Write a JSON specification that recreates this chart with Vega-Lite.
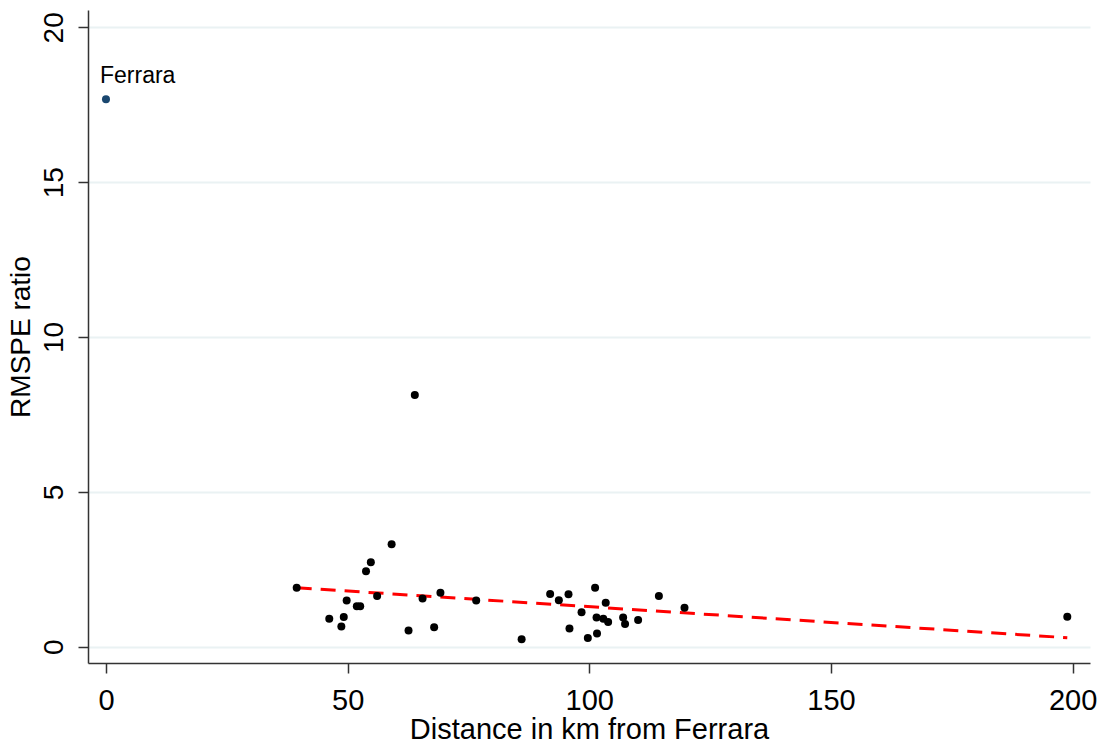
{
  "$schema": "https://vega.github.io/schema/vega-lite/v6.json",
  "width": 1002,
  "height": 653,
  "autosize": {"type": "none"},
  "padding": {"left": 88, "top": 10, "right": 14, "bottom": 83},
  "background": "white",
  "config": {
    "view": {"stroke": null},
    "font": "Liberation Sans",
    "axis": {
      "labelFont": "Liberation Sans",
      "titleFont": "Liberation Sans",
      "labelColor": "#000000",
      "titleColor": "#000000",
      "titleFontWeight": "normal",
      "domainColor": "#333333",
      "domainWidth": 1.5,
      "tickColor": "#333333",
      "tickWidth": 1.5,
      "tickSize": 10
    }
  },
  "datasets": {
    "pts": [
      {"unit": "Ferrara", "distance": 0, "ratio": 17.68, "label": "Ferrara"},
      {"unit": "u1", "distance": 39.46, "ratio": 1.905, "label": ""},
      {"unit": "u2", "distance": 46.2, "ratio": 0.90, "label": ""},
      {"unit": "u3", "distance": 48.7, "ratio": 0.65, "label": ""},
      {"unit": "u4", "distance": 49.2, "ratio": 0.96, "label": ""},
      {"unit": "u5", "distance": 49.8, "ratio": 1.49, "label": ""},
      {"unit": "u6", "distance": 51.9, "ratio": 1.31, "label": ""},
      {"unit": "u7", "distance": 52.6, "ratio": 1.31, "label": ""},
      {"unit": "u8", "distance": 53.8, "ratio": 2.44, "label": ""},
      {"unit": "u9", "distance": 54.8, "ratio": 2.73, "label": ""},
      {"unit": "u10", "distance": 56.1, "ratio": 1.64, "label": ""},
      {"unit": "u11", "distance": 59.1, "ratio": 3.31, "label": ""},
      {"unit": "u12", "distance": 62.6, "ratio": 0.52, "label": ""},
      {"unit": "u13", "distance": 63.9, "ratio": 8.13, "label": ""},
      {"unit": "u14", "distance": 65.5, "ratio": 1.56, "label": ""},
      {"unit": "u15", "distance": 67.9, "ratio": 0.63, "label": ""},
      {"unit": "u16", "distance": 69.2, "ratio": 1.74, "label": ""},
      {"unit": "u17", "distance": 76.6, "ratio": 1.49, "label": ""},
      {"unit": "u18", "distance": 86.0, "ratio": 0.24, "label": ""},
      {"unit": "u19", "distance": 91.9, "ratio": 1.70, "label": ""},
      {"unit": "u20", "distance": 93.7, "ratio": 1.50, "label": ""},
      {"unit": "u21", "distance": 95.7, "ratio": 1.69, "label": ""},
      {"unit": "u22", "distance": 95.9, "ratio": 0.59, "label": ""},
      {"unit": "u23", "distance": 98.4, "ratio": 1.11, "label": ""},
      {"unit": "u24", "distance": 99.7, "ratio": 0.28, "label": ""},
      {"unit": "u25", "distance": 101.2, "ratio": 1.90, "label": ""},
      {"unit": "u26", "distance": 101.5, "ratio": 0.94, "label": ""},
      {"unit": "u27", "distance": 101.6, "ratio": 0.43, "label": ""},
      {"unit": "u28", "distance": 102.9, "ratio": 0.90, "label": ""},
      {"unit": "u29", "distance": 103.4, "ratio": 1.42, "label": ""},
      {"unit": "u30", "distance": 103.9, "ratio": 0.80, "label": ""},
      {"unit": "u31", "distance": 107.0, "ratio": 0.94, "label": ""},
      {"unit": "u32", "distance": 107.4, "ratio": 0.73, "label": ""},
      {"unit": "u33", "distance": 110.1, "ratio": 0.86, "label": ""},
      {"unit": "u34", "distance": 114.4, "ratio": 1.64, "label": ""},
      {"unit": "u35", "distance": 119.7, "ratio": 1.26, "label": ""},
      {"unit": "u36", "distance": 198.9, "ratio": 0.97, "label": ""}
    ],
    "fit": [
      {"distance": 39.46, "ratio": 1.905},
      {"distance": 198.9, "ratio": 0.29}
    ]
  },
  "layer": [
    {
      "data": {"name": "fit"},
      "mark": {"type": "line", "color": "#ff0000", "strokeWidth": 3, "strokeDash": [15, 9]},
      "encoding": {
        "x": {
          "field": "distance", "type": "quantitative",
          "scale": {"domain": [-3.72, 203.6], "nice": false, "zero": false},
          "axis": {
            "title": "Distance in km from Ferrara",
            "values": [0, 50, 100, 150, 200],
            "grid": false,
            "labelFontSize": 29,
            "titleFontSize": 29,
            "labelPadding": 13,
            "titlePadding": 0
          }
        },
        "y": {
          "field": "ratio", "type": "quantitative",
          "scale": {"domain": [-0.526, 20.56], "nice": false, "zero": false},
          "axis": {
            "title": "RMSPE ratio",
            "values": [0, 5, 10, 15, 20],
            "grid": true,
            "gridColor": "#eaf2f3",
            "gridWidth": 2,
            "labelFontSize": 28,
            "labelAngle": -90,
            "labelAlign": "center",
            "labelBaseline": "bottom",
            "labelPadding": 10,
            "titleFontSize": 28,
            "titlePadding": 5
          }
        }
      }
    },
    {
      "data": {"name": "pts"},
      "transform": [{"filter": "datum.unit !== 'Ferrara'"}],
      "mark": {"type": "circle", "color": "#000000", "opacity": 1, "size": 64},
      "encoding": {
        "x": {"field": "distance", "type": "quantitative"},
        "y": {"field": "ratio", "type": "quantitative"}
      }
    },
    {
      "data": {"name": "pts"},
      "transform": [{"filter": "datum.unit === 'Ferrara'"}],
      "mark": {"type": "circle", "color": "#1a476f", "opacity": 1, "size": 64},
      "encoding": {
        "x": {"field": "distance", "type": "quantitative"},
        "y": {"field": "ratio", "type": "quantitative"}
      }
    },
    {
      "data": {"name": "pts"},
      "transform": [{"filter": "datum.unit === 'Ferrara'"}],
      "mark": {"type": "text", "align": "left", "baseline": "alphabetic", "dx": -6, "dy": -16, "fontSize": 23, "font": "Liberation Sans", "color": "#000000"},
      "encoding": {
        "x": {"field": "distance", "type": "quantitative"},
        "y": {"field": "ratio", "type": "quantitative"},
        "text": {"field": "label"}
      }
    }
  ]
}
